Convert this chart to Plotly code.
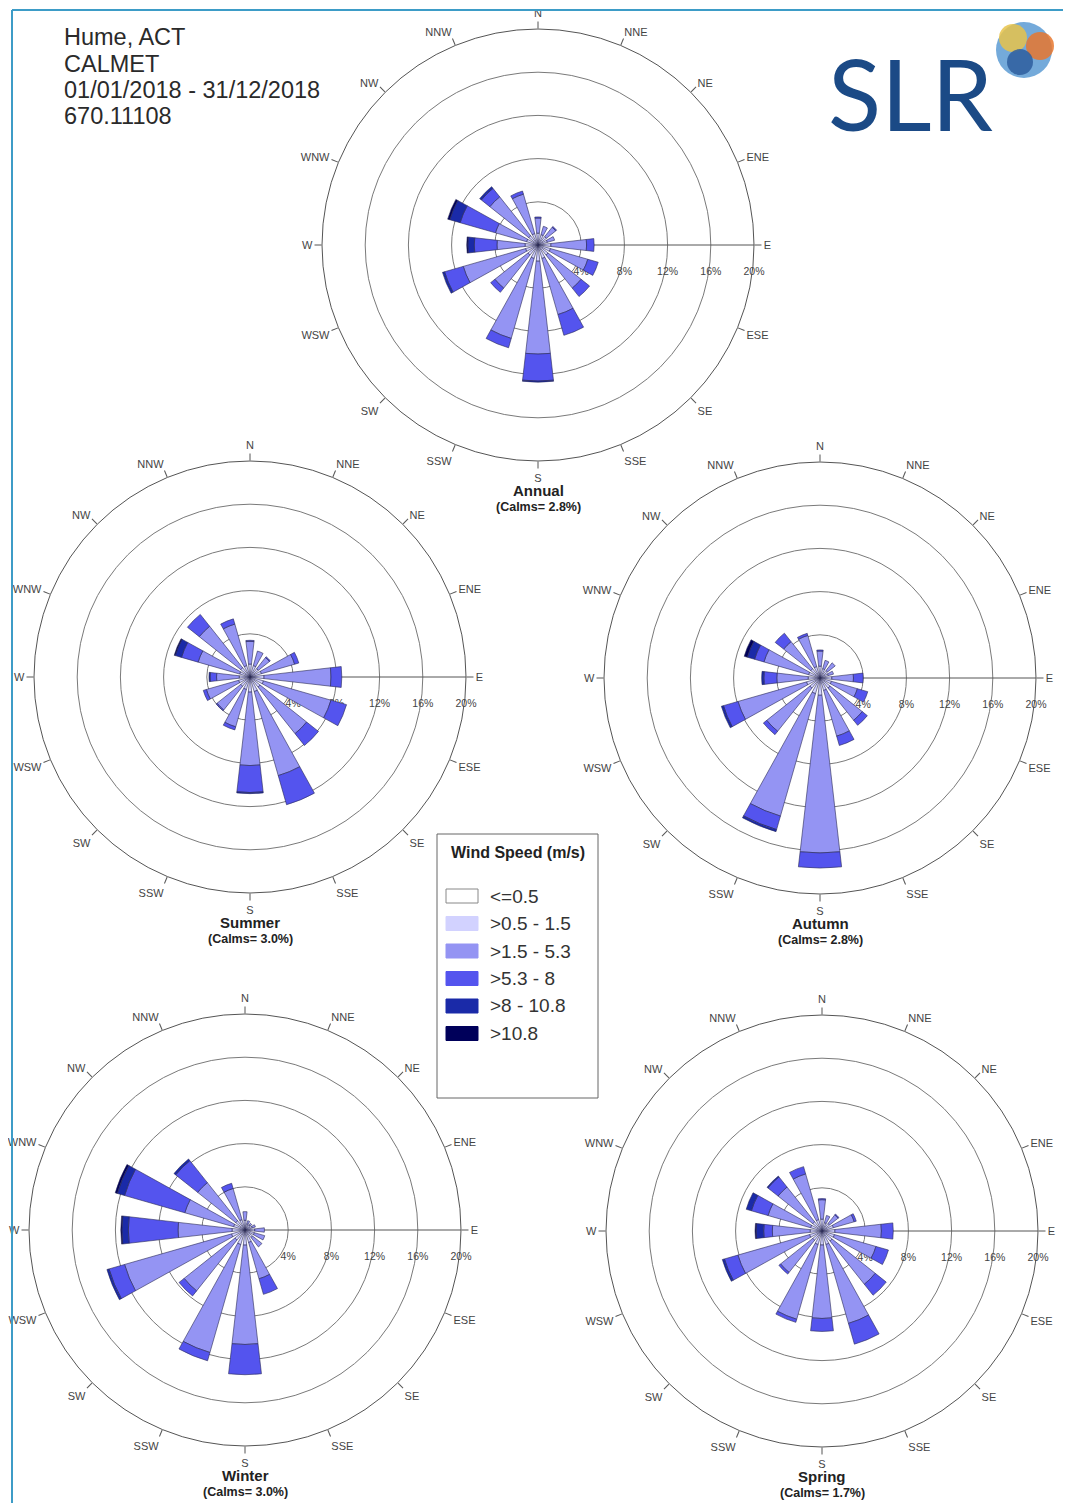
import plotly.graph_objects as go

# page offset of the plot inside the browser (default body margin)
OFF = 8
W, H = 1071 - OFF, 1503 - OFF

directions = ["N", "NNE", "NE", "ENE", "E", "ESE", "SE", "SSE",
              "S", "SSW", "SW", "WSW", "W", "WNW", "NW", "NNW"]
speed_classes = ["<=0.5", ">0.5 - 1.5", ">1.5 - 5.3", ">5.3 - 8", ">8 - 10.8", ">10.8"]
class_colors = ["#FFFFFF", "#D2D2FF", "#9494F3", "#5454EE", "#1A2AA8", "#00005A"]
radial_ticks = [4, 8, 12, 16, 20]
radial_labels = ["4%", "8%", "12%", "16%", "20%"]

# frequencies (%) per direction, one list per speed class
annual_c0 = [0.2] * 16
annual_c1 = [0.9, 0.8, 0.8, 0.7, 1.0, 1.0, 1.0, 1.1, 1.3, 1.1, 1.0, 1.0, 1.0, 0.9, 0.9, 0.9]
annual_c2 = [1.4, 0.8, 1.1, 0.7, 3.3, 3.6, 3.9, 5.4, 8.6, 7.7, 3.9, 6.0, 2.6, 3.0, 4.6, 3.8]
annual_c3 = [0.1, 0.0, 0.1, 0.0, 0.7, 1.0, 1.0, 2.0, 2.5, 0.9, 0.5, 1.8, 2.1, 3.4, 1.0, 0.3]
annual_c4 = [0, 0, 0, 0, 0, 0, 0, 0, 0.1, 0, 0, 0.2, 0.6, 1.0, 0.2, 0]
annual_c5 = [0, 0, 0, 0, 0, 0, 0, 0, 0, 0, 0, 0, 0.1, 0.2, 0, 0]

summer_c0 = [0.2] * 16
summer_c1 = [1.0, 0.9, 0.8, 0.9, 1.1, 1.1, 1.0, 1.2, 1.2, 1.0, 0.9, 0.9, 0.8, 0.8, 0.9, 0.9]
summer_c2 = [2.1, 1.4, 1.3, 3.2, 6.2, 6.5, 5.5, 8.1, 6.8, 3.6, 2.8, 3.1, 2.1, 4.0, 4.9, 4.0]
summer_c3 = [0.1, 0.0, 0.1, 0.4, 1.0, 1.5, 1.4, 2.8, 2.5, 0.3, 0.1, 0.3, 0.6, 1.6, 1.4, 0.5]
summer_c4 = [0, 0, 0, 0, 0, 0, 0, 0, 0.1, 0, 0, 0, 0.1, 0.6, 0, 0]
summer_c5 = [0, 0, 0, 0, 0, 0, 0, 0, 0, 0, 0, 0, 0, 0.1, 0, 0]

autumn_c0 = [0.2] * 16
autumn_c1 = [0.9, 0.7, 0.7, 0.6, 0.9, 0.9, 1.0, 1.0, 1.4, 1.3, 1.0, 1.1, 0.9, 0.9, 0.9, 0.9]
autumn_c2 = [1.4, 0.8, 0.9, 0.5, 2.0, 2.5, 3.8, 4.4, 14.6, 11.8, 5.1, 6.6, 2.9, 4.3, 3.2, 3.0]
autumn_c3 = [0.1, 0.0, 0.0, 0.0, 0.9, 1.0, 0.6, 0.9, 1.4, 1.3, 0.4, 1.4, 1.2, 0.9, 1.0, 0.2]
autumn_c4 = [0, 0, 0, 0, 0, 0, 0, 0, 0, 0.2, 0, 0.2, 0.2, 0.7, 0, 0]
autumn_c5 = [0, 0, 0, 0, 0, 0, 0, 0, 0, 0, 0, 0, 0, 0.3, 0, 0]

winter_c0 = [0.2] * 16
winter_c1 = [0.7, 0.4, 0.4, 0.5, 0.7, 0.7, 0.7, 1.0, 1.2, 1.2, 1.0, 1.1, 1.0, 0.9, 0.9, 0.8]
winter_c2 = [0.8, 0.3, 0.2, 0.3, 0.9, 1.0, 1.1, 3.5, 9.2, 10.4, 6.0, 10.3, 5.0, 4.7, 4.5, 3.0]
winter_c3 = [0, 0, 0, 0, 0, 0, 0, 1.5, 2.8, 0.8, 0.6, 1.5, 4.6, 5.8, 2.6, 0.5]
winter_c4 = [0, 0, 0, 0, 0, 0, 0, 0, 0, 0, 0, 0.2, 0.6, 0.7, 0.2, 0]
winter_c5 = [0, 0, 0, 0, 0, 0, 0, 0, 0, 0, 0, 0, 0.1, 0.2, 0, 0]

spring_c0 = [0.2] * 16
spring_c1 = [0.9, 0.6, 0.7, 0.9, 1.0, 1.0, 1.0, 1.1, 1.1, 1.1, 0.9, 1.0, 0.9, 0.9, 0.9, 0.9]
spring_c2 = [1.8, 0.7, 1.0, 2.0, 4.3, 4.0, 5.1, 7.6, 6.8, 7.2, 3.8, 6.9, 3.5, 4.1, 4.1, 4.4]
spring_c3 = [0.1, 0.0, 0.1, 0.2, 1.1, 1.2, 1.3, 2.0, 1.2, 0.3, 0.2, 1.3, 0.8, 1.6, 1.2, 0.7]
spring_c4 = [0, 0, 0, 0, 0, 0, 0, 0, 0, 0, 0, 0.2, 0.7, 0.5, 0.1, 0]
spring_c5 = [0, 0, 0, 0, 0, 0, 0, 0, 0, 0, 0, 0, 0.1, 0, 0, 0]

season_names = ["Annual", "Summer", "Autumn", "Winter", "Spring"]
calms = [2.8, 3.0, 2.8, 3.0, 1.7]
season_data = [
    [annual_c0, annual_c1, annual_c2, annual_c3, annual_c4, annual_c5],
    [summer_c0, summer_c1, summer_c2, summer_c3, summer_c4, summer_c5],
    [autumn_c0, autumn_c1, autumn_c2, autumn_c3, autumn_c4, autumn_c5],
    [winter_c0, winter_c1, winter_c2, winter_c3, winter_c4, winter_c5],
    [spring_c0, spring_c1, spring_c2, spring_c3, spring_c4, spring_c5],
]

# layout: rose centres (page px) and 20% radius (px)
centres = [(538, 245), (250, 677), (820, 678), (245, 1230), (822, 1231)]
R = 216


def px(x):
    return (x - OFF) / W


def py(y):
    return 1 - (y - OFF) / H


FONT = "Liberation Sans, Arial, sans-serif"
fig = go.Figure()

layout_polars = {}
annotations = []
for i, (name, data) in enumerate(zip(season_names, season_data)):
    sub = "polar" if i == 0 else f"polar{i + 1}"
    for k, vals in enumerate(data):
        fig.add_trace(go.Barpolar(
            r=vals, theta=directions, width=0.58, name=speed_classes[k],
            marker=dict(color=class_colors[k], line=dict(color="#2A2A55", width=0.6)),
            subplot=sub, showlegend=False,
        ))
    cx, cy = centres[i]
    layout_polars[sub] = dict(
        domain=dict(x=[px(cx - R), px(cx + R)], y=[py(cy + R), py(cy - R)]),
        bgcolor="rgba(0,0,0,0)",
        angularaxis=dict(type="category", categoryarray=directions, direction="clockwise",
                         rotation=90, showgrid=False, ticks="outside", ticklen=7,
                         tickcolor="#555", linecolor="#555", linewidth=1,
                         tickfont=dict(size=11, color="#444", family=FONT),
                         layer="below traces"),
        radialaxis=dict(range=[0, 20], tickmode="array", tickvals=radial_ticks,
                        ticktext=radial_labels, angle=0,
                        showline=True, linecolor="#555", linewidth=1,
                        gridcolor="#7a7a7a", gridwidth=0.8, ticks="outside", ticklen=17,
                        tickcolor="rgba(0,0,0,0)",
                        tickfont=dict(size=10.5, color="#444", family=FONT),
                        layer="below traces"),
    )
    annotations.append(dict(x=px(cx), y=py(cy + 245), xref="paper", yref="paper",
                            xanchor="center", yanchor="middle",
                            text=f"<b>{name}</b>", showarrow=False,
                            font=dict(size=15, color="#222", family=FONT)))
    annotations.append(dict(x=px(cx), y=py(cy + 262), xref="paper", yref="paper",
                            xanchor="center", yanchor="middle",
                            text=f"<b>(Calms= {calms[i]}%)</b>", showarrow=False,
                            font=dict(size=12.5, color="#222", family=FONT)))

# header text
header_lines = ["Hume, ACT", "CALMET", "01/01/2018 - 31/12/2018", "670.11108"]
for j, line in enumerate(header_lines):
    annotations.append(dict(x=px(62), y=py(37 + 26.5 * j), xref="paper", yref="paper",
                            xanchor="left", yanchor="middle", text=line, showarrow=False,
                            font=dict(size=23.5, color="#2a2a2a", family=FONT)))

# SLR logo text
annotations.append(dict(x=px(910), y=py(93), xref="paper", yref="paper",
                        text="SLR", showarrow=False, xanchor="center", yanchor="middle",
                        font=dict(size=98, color="#1B4A86", family="Lato, Open Sans, sans-serif")))

shapes = []
# page border
shapes.append(dict(type="line", xref="paper", yref="paper", x0=px(12), x1=1, y0=py(10), y1=py(10),
                   line=dict(color="#3D9CC7", width=2)))
shapes.append(dict(type="line", xref="paper", yref="paper", x0=px(12), x1=px(12), y0=0, y1=py(10),
                   line=dict(color="#3D9CC7", width=2)))
# logo globe
globe = [(1024, 50, 28, "#5C9BD3"), (1013, 38, 14, "#E8C34A"), (1040, 46, 14, "#E8772E"),
         (1020, 62, 13, "#2E5E9E")]
for gx, gy, gr, gc in globe:
    shapes.append(dict(type="circle", xref="paper", yref="paper",
                       x0=px(gx - gr), x1=px(gx + gr), y0=py(gy + gr), y1=py(gy - gr),
                       fillcolor=gc, line=dict(width=0), opacity=0.85))

# legend box
lx0, lx1, ly0, ly1 = 437, 598, 834, 1098
shapes.append(dict(type="rect", xref="paper", yref="paper", x0=px(lx0), x1=px(lx1),
                   y0=py(ly1), y1=py(ly0), line=dict(color="#666", width=1), fillcolor="white"))
annotations.append(dict(x=px((lx0 + lx1) / 2), y=py(853), xref="paper", yref="paper",
                        xanchor="center", yanchor="middle",
                        text="<b>Wind Speed (m/s)</b>", showarrow=False,
                        font=dict(size=16, color="#222", family=FONT)))
for k, lab in enumerate(speed_classes):
    yc = 896 + 27.5 * k
    shapes.append(dict(type="rect", xref="paper", yref="paper", x0=px(446), x1=px(478),
                       y0=py(yc + 7), y1=py(yc - 7), fillcolor=class_colors[k],
                       line=dict(color="#888" if k == 0 else class_colors[k], width=1)))
    annotations.append(dict(x=px(488), y=py(yc), xref="paper", yref="paper", xanchor="left",
                            yanchor="middle", text=lab, showarrow=False,
                            font=dict(size=19, color="#333", family=FONT)))

fig.update_layout(width=W, height=H, margin=dict(l=0, r=0, t=0, b=0),
                  paper_bgcolor="white", plot_bgcolor="white",
                  annotations=annotations, shapes=shapes, **layout_polars)
fig.write_html("out.html")
